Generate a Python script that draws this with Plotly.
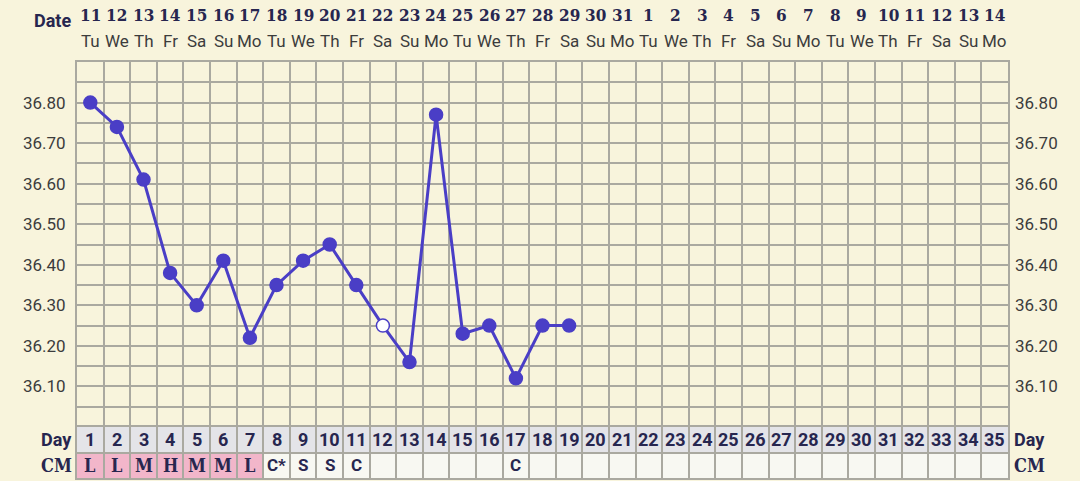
import plotly.graph_objects as go

# ---------------- data ----------------
cycle_days = list(range(1, 36))
dates = [11, 12, 13, 14, 15, 16, 17, 18, 19, 20, 21, 22, 23, 24, 25, 26, 27, 28, 29, 30, 31,
         1, 2, 3, 4, 5, 6, 7, 8, 9, 10, 11, 12, 13, 14]
weekdays = ["Tu", "We", "Th", "Fr", "Sa", "Su", "Mo"] * 5
temp_days = list(range(1, 20))
temps = [36.80, 36.74, 36.61, 36.38, 36.30, 36.41, 36.22, 36.35, 36.41, 36.45,
         36.35, 36.25, 36.16, 36.77, 36.23, 36.25, 36.12, 36.25, 36.25]
open_days = [12]
cm_codes = ["L", "L", "M", "H", "M", "M", "L", "C*", "S", "S", "C", "", "", "", "", "", "C"] + [""] * 18
cm_pink = ["L", "M", "H"]
y_labels = ["36.10", "36.20", "36.30", "36.40", "36.50", "36.60", "36.70", "36.80"]
y_min, y_max, y_step = 36.00, 36.90, 0.05

# ---------------- style ----------------
BG = "#f8f4dc"
GRID = "#aaa9a0"
PURPLE = "#4a3ec6"
NAVY = "#27264f"
TICK = "#3c3c3c"
DAYROW = "#e4e4e8"
CMROW = "#f8f8f2"
PINK = "#f2b6ca"
SLAB = "DejaVu Serif Condensed, DejaVu Serif"
SANS = "Roboto"

W, H = 1080, 481
ML, MR, MT, MB = 77, 72, 62, 3
plot_h = H - MT - MB
row_px = 51
split = row_px / plot_h

n_steps = int(round((y_max - y_min) / y_step))
grid_vals = [round(y_min + i * y_step, 2) for i in range(n_steps + 1)]
grid_text = [f"{v:.2f}" if f"{v:.2f}" in y_labels else "" for v in grid_vals]

fig = go.Figure()

fig.add_trace(go.Scatter(
    x=temp_days, y=temps, mode="lines+markers",
    line=dict(color=PURPLE, width=3),
    marker=dict(size=13, color=["white" if d in open_days else PURPLE for d in temp_days],
                line=dict(color=PURPLE, width=1.5)),
    cliponaxis=False, hoverinfo="skip", showlegend=False))

# invisible traces to create row subplot and right axis
fig.add_trace(go.Scatter(x=[1], y=[0.5], xaxis="x", yaxis="y2", mode="markers",
                         marker=dict(opacity=0), hoverinfo="skip", showlegend=False))
fig.add_trace(go.Scatter(x=[1], y=[36.5], xaxis="x", yaxis="y3", mode="markers",
                         marker=dict(opacity=0), hoverinfo="skip", showlegend=False))

shapes = []
annotations = []
for d, code in zip(cycle_days, cm_codes):
    shapes.append(dict(type="rect", xref="x", yref="y2", x0=d - 0.5, x1=d + 0.5, y0=1, y1=2,
                       fillcolor=DAYROW, line=dict(width=0), layer="below"))
    shapes.append(dict(type="rect", xref="x", yref="y2", x0=d - 0.5, x1=d + 0.5, y0=0, y1=1,
                       fillcolor=PINK if code in cm_pink else CMROW, line=dict(width=0), layer="below"))
    annotations.append(dict(x=d, y=1.5, xref="x", yref="y2", text=f"<b>{d}</b>", showarrow=False,
                            font=dict(family=SANS, size=18, color=NAVY)))
    if code:
        fam = SLAB if code in cm_pink else SANS
        annotations.append(dict(x=d, y=0.5, xref="x", yref="y2", text=f"<b>{code}</b>", showarrow=False,
                                font=dict(family=fam, size=18 if code in cm_pink else 17, color=NAVY)))

for d, dt, wd in zip(cycle_days, dates, weekdays):
    annotations.append(dict(x=d, y=1, xref="x", yref="paper", yanchor="middle", yshift=47,
                            text=f"<b>{dt}</b>", showarrow=False,
                            font=dict(family=SLAB, size=17, color=NAVY)))
    annotations.append(dict(x=d, y=1, xref="x", yref="paper", yanchor="middle", yshift=21,
                            text=wd, showarrow=False,
                            font=dict(family=SANS, size=17, color=TICK)))

annotations.append(dict(x=0.5, y=1, xref="x", yref="paper", xanchor="right", yanchor="middle",
                        xshift=-4, yshift=42, text="<b>Date</b>", showarrow=False,
                        font=dict(family=SANS, size=18, color=NAVY)))
for lbl, yy, fam in [("Day", 1.5, SANS), ("CM", 0.5, SLAB)]:
    annotations.append(dict(x=0.5, y=yy, xref="x", yref="y2", xanchor="right", xshift=-3,
                            text=f"<b>{lbl}</b>", showarrow=False,
                            font=dict(family=fam, size=18, color=NAVY)))
    annotations.append(dict(x=35.5, y=yy, xref="x", yref="y2", xanchor="left", xshift=4,
                            text=f"<b>{lbl}</b>", showarrow=False,
                            font=dict(family=fam, size=18, color=NAVY)))

col_edges = [d - 0.5 for d in cycle_days] + [cycle_days[-1] + 0.5]

fig.update_layout(
    width=W, height=H,
    margin=dict(l=ML, r=MR, t=MT, b=MB, pad=0),
    paper_bgcolor=BG, plot_bgcolor=BG,
    showlegend=False,
    shapes=shapes, annotations=annotations,
    xaxis=dict(range=[0.5, 35.5], tickvals=col_edges, showticklabels=False, ticks="",
               showgrid=True, gridcolor=GRID, gridwidth=2, zeroline=False,
               showline=True, linecolor=GRID, linewidth=2, mirror="all",
               anchor="y2", fixedrange=True),
    yaxis=dict(domain=[split, 1], range=[y_min, y_max], tickvals=grid_vals, ticktext=grid_text,
               ticks="", ticklabelstandoff=6, showgrid=True, gridcolor=GRID, gridwidth=2,
               zeroline=False, showline=True, linecolor=GRID, linewidth=2, mirror=True,
               tickfont=dict(family=SANS, size=17, color=TICK), anchor="x"),
    yaxis2=dict(domain=[0, split], range=[0, 2], tickvals=[0, 1, 2], showticklabels=False, ticks="",
                showgrid=True, gridcolor=GRID, gridwidth=2, zeroline=False,
                showline=True, linecolor=GRID, linewidth=2, mirror=True, anchor="x"),
    yaxis3=dict(overlaying="y", side="right", range=[y_min, y_max], tickvals=grid_vals,
                ticktext=grid_text, ticks="", ticklabelstandoff=6, showgrid=False, zeroline=False,
                tickfont=dict(family=SANS, size=17, color=TICK), anchor="x"),
)

fig.write_html(
    "out.html",
    config={"displayModeBar": False},
    post_script=f"document.body.style.margin='0';document.body.style.background='{BG}';",
)
